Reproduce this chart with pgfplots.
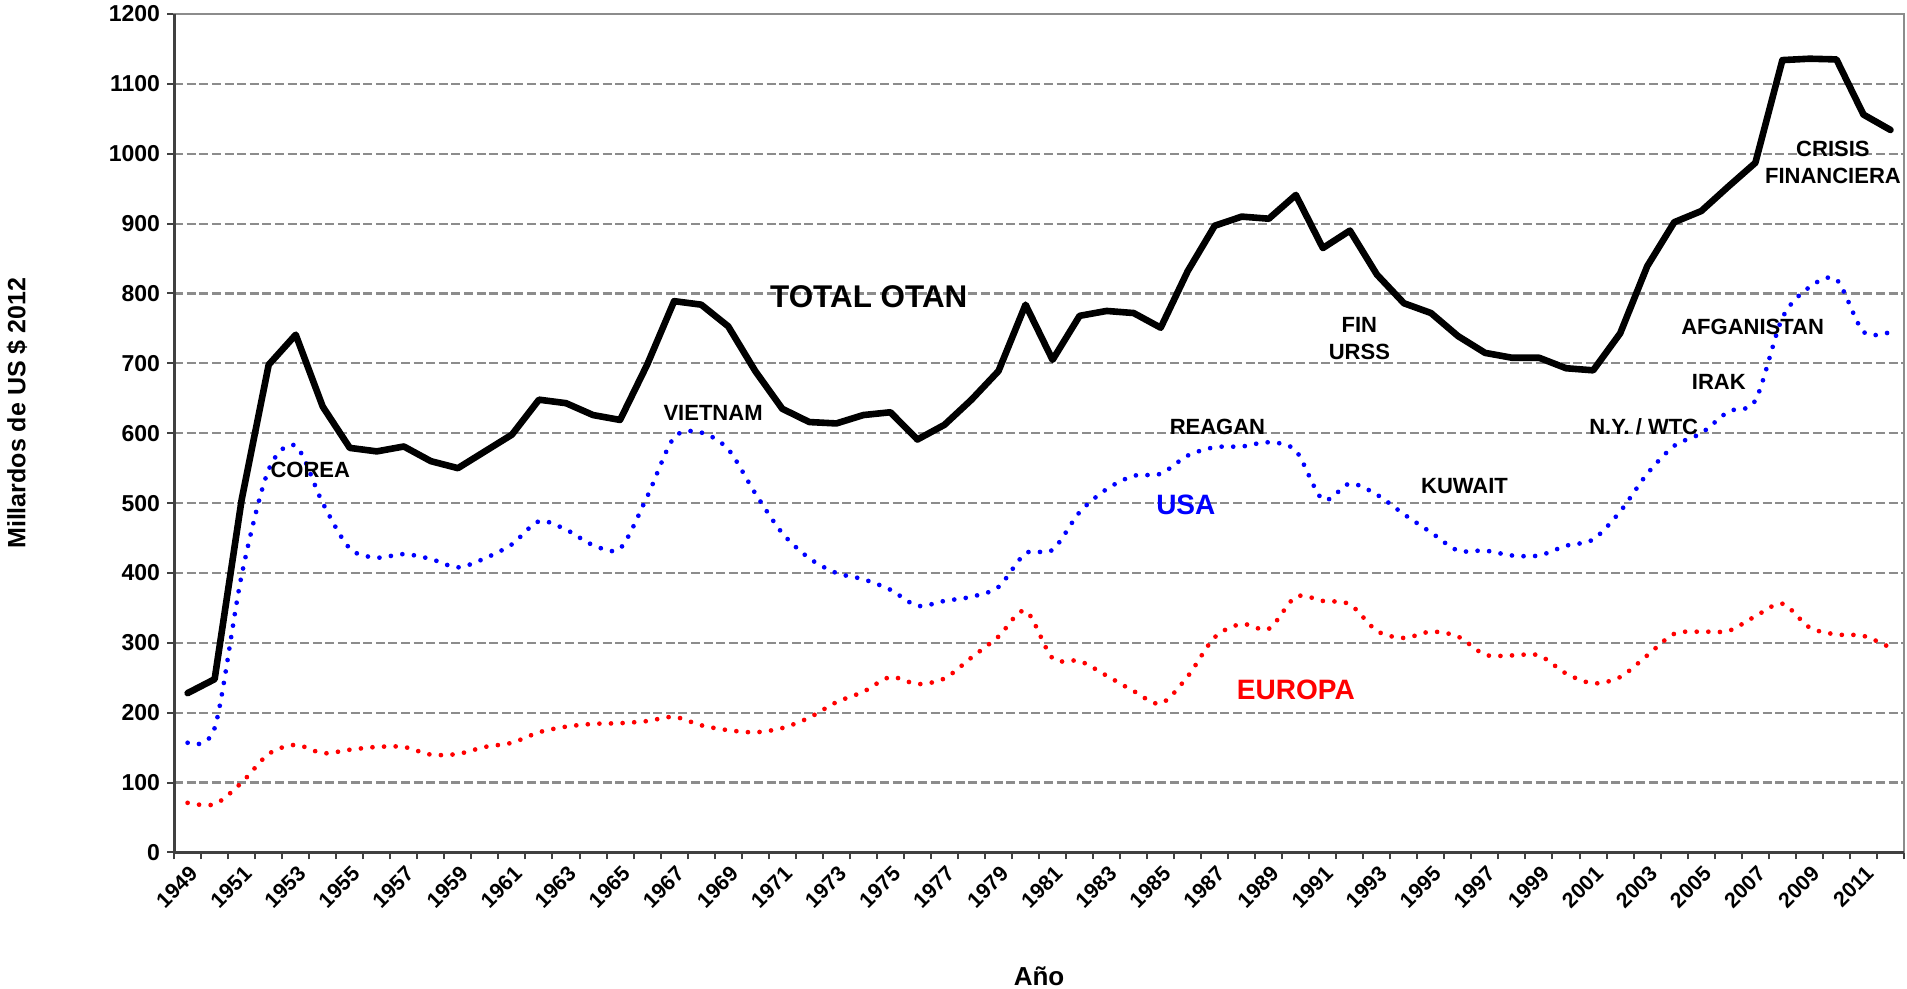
\documentclass[border=0pt]{standalone}
\usepackage{pgfplots}
\pgfplotsset{compat=1.18}
\usepackage{pgfplotstable}
\usepackage{fontspec}
\setmainfont{Liberation Sans}

% year, total OTAN, USA, Europa (billions of 2012 US$)
\pgfplotstableread{
year otan usa europa
1949 228 157 71
1950 248 178 69
1951 505 397 100
1952 698 548 141
1953 741 582 154
1954 638 500 142
1955 579 435 147
1956 574 422 151
1957 581 427 151
1958 560 420 140
1959 550 408 141
1960 574 421 151
1961 598 441 157
1962 648 474 172
1963 643 462 180
1964 626 440 184
1965 619 435 185
1966 698 509 188
1967 789 594 194
1968 784 601 182
1969 753 577 175
1970 689 514 172
1971 635 457 178
1972 616 421 193
1973 614 400 215
1974 626 391 230
1975 630 376 251
1976 591 353 241
1977 612 360 249
1978 648 366 279
1979 689 380 309
1980 784 428 346
1981 705 433 278
1982 768 487 274
1983 775 520 253
1984 772 539 231
1985 751 542 213
1986 832 568 252
1987 897 580 308
1988 910 581 327
1989 907 587 320
1990 941 575 366
1991 865 505 360
1992 890 528 355
1993 827 512 317
1994 786 484 307
1995 772 458 316
1996 739 432 309
1997 715 432 283
1998 708 425 282
1999 708 425 282
2000 693 439 256
2001 690 448 242
2002 743 488 251
2003 839 542 282
2004 902 582 313
2005 918 600 316
2006 953 631 317
2007 987 647 338
2008 1134 765 356
2009 1136 809 322
2010 1135 820 312
2011 1056 745 310
2012 1034 745 293
}\gastos

\begin{document}
\begin{tikzpicture}
\begin{axis}[
  name=ax,
  scale only axis,
  width=864.5pt, height=419pt,
  xmin=1948.5, xmax=2012.5,
  ymin=0, ymax=1200,
  ytick={0,100,...,1200},
  xtick={1949,1951,...,2011},
  minor xtick={1948.5,1949.5,...,2012.5},
  tick pos=left,
  tick align=outside,
  major tick length=3.5pt,
  minor tick length=3.5pt,
  major x tick style={draw=none},
  every tick/.style={black!75, line width=1pt},
  axis line style={draw=black!45, line width=1pt},
  ymajorgrids,
  major grid style={black!45, line width=1.1pt, dash pattern=on 4.5pt off 1.8pt},
  /pgf/number format/.cd, 1000 sep={}, assume math mode=true,
  /pgfplots/.cd,
  yticklabel style={font=\fontsize{11.5}{12}\selectfont\bfseries},
  xticklabel style={font=\fontsize{10.7}{12}\selectfont\bfseries, rotate=45, anchor=east, inner sep=0pt, xshift=-1.5pt, yshift=-6pt},
  clip=false,
]
\draw[black!75, line width=1.5pt] (rel axis cs:0,1) -- (rel axis cs:0,0) -- (rel axis cs:1,0);

\addplot[blue, line width=2.35pt, line cap=round, dash pattern=on 0pt off 5.8pt, smooth, tension=0.5] table[x=year, y=usa] {\gastos};
\addplot[red, line width=2.35pt, line cap=round, dash pattern=on 0pt off 5.8pt, smooth, tension=0.5] table[x=year, y=europa] {\gastos};
\addplot[black, line width=3.3pt, line join=round, line cap=round] table[x=year, y=otan] {\gastos};

\begin{scope}[every node/.style={font=\fontsize{11}{13.5}\selectfont\bfseries, align=center, inner sep=0pt}]
\node at (axis cs:1974.2,796) {\fontsize{15.7}{18}\selectfont TOTAL OTAN};
\node at (axis cs:1953.54,547) {COREA};
\node at (axis cs:1968.44,629) {VIETNAM};
\node at (axis cs:1987.1,609) {REAGAN};
\node[text=blue] at (axis cs:1985.93,497) {\fontsize{14}{16}\selectfont USA};
\node[text=red] at (axis cs:1990.0,233) {\fontsize{14}{16}\selectfont EUROPA};
\node at (axis cs:1992.35,736) {FIN\\URSS};
\node at (axis cs:1996.24,524) {KUWAIT};
\node at (axis cs:2002.87,609) {N.Y. / WTC};
\node at (axis cs:2005.65,673) {IRAK};
\node at (axis cs:2006.9,752) {AFGANISTAN};
\node at (axis cs:2009.87,987) {CRISIS\\FINANCIERA};
\end{scope}
\end{axis}
\node[rotate=90, font=\fontsize{12.5}{14}\selectfont\bfseries] at ([xshift=-78.5pt, yshift=10pt]ax.west) {Millardos de US \$ 2012};
\node[font=\fontsize{13}{15}\selectfont\bfseries] at ([yshift=-62pt]ax.south) {Año};
\pgfresetboundingbox
\useasboundingbox ([xshift=-87pt, yshift=-68pt]ax.south west) rectangle ([xshift=1.5pt, yshift=7pt]ax.north east);
\end{tikzpicture}
\end{document}
